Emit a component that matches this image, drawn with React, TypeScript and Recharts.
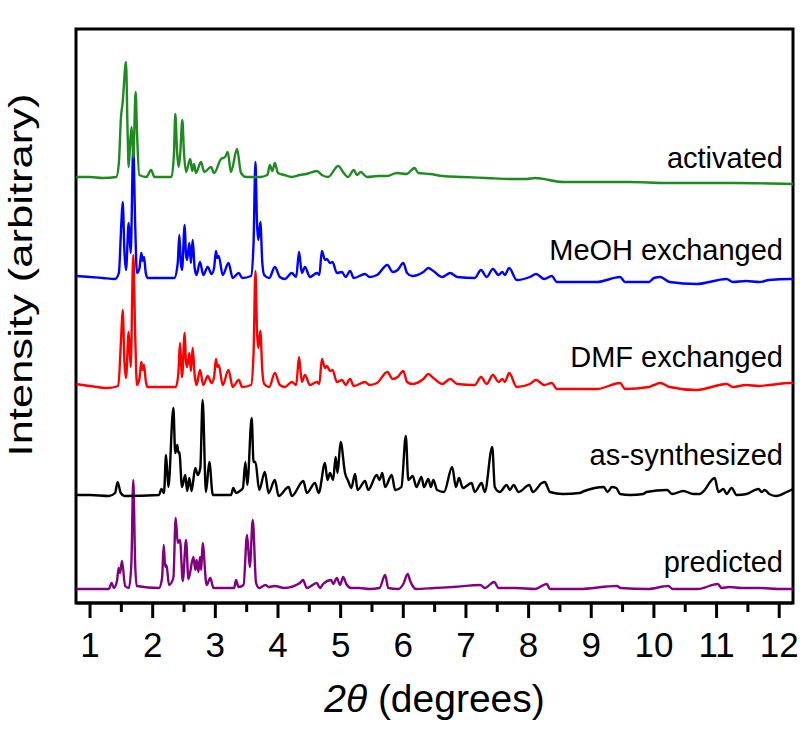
import React from "react";
import { LineChart, Line, XAxis, YAxis, ReferenceDot, ReferenceArea } from "recharts";

// 2θ (degrees) and intensity (arbitrary units, already stacked)
const activated: [number, number][] = [
  [0.78, 426], [1.0, 426], [1.2, 425], [1.42, 426], [1.46, 440], [1.494, 486], [1.52, 500], [1.574, 541],
  [1.6, 470], [1.617, 436], [1.64, 460], [1.664, 476], [1.69, 445], [1.728, 511], [1.75, 470], [1.786, 428],
  [1.9, 426], [1.973, 433], [2.03, 426], [2.3, 426], [2.34, 450], [2.361, 489], [2.39, 450], [2.415, 436],
  [2.44, 450], [2.473, 483], [2.5, 450], [2.532, 431], [2.6, 444], [2.63, 432], [2.66, 439], [2.69, 430],
  [2.771, 441], [2.824, 431], [2.931, 436], [2.98, 430], [3.09, 444], [3.155, 446], [3.197, 451], [3.25, 431],
  [3.346, 454], [3.41, 430], [3.49, 426], [3.71, 426], [3.83, 428], [3.87, 438], [3.91, 432], [3.95, 440],
  [4.0, 430], [4.1, 428], [4.22, 426], [4.35, 428], [4.45, 429], [4.62, 432], [4.7, 428], [4.8, 426],
  [4.96, 437], [5.05, 430], [5.12, 426], [5.21, 433], [5.26, 428], [5.32, 431], [5.42, 426], [5.6, 427],
  [5.74, 427], [5.9, 430], [6.05, 429], [6.18, 435], [6.24, 430], [6.43, 429], [6.63, 427], [6.95, 426],
  [7.33, 425], [7.7, 424], [7.97, 424], [8.1, 425], [8.55, 421], [9.0, 421], [9.62, 421], [10.2, 420],
  [10.68, 420], [11.3, 420], [12.22, 419],
];

const meohExchanged: [number, number][] = [
  [0.78, 327], [1.0, 326], [1.2, 325], [1.4, 324], [1.46, 330], [1.5, 380], [1.521, 401], [1.55, 350],
  [1.574, 333], [1.617, 380], [1.649, 350], [1.69, 456], [1.72, 380], [1.749, 330], [1.79, 335], [1.818, 350],
  [1.84, 342], [1.861, 346], [1.89, 330], [1.92, 325], [2.1, 325], [2.345, 325], [2.4, 340], [2.425, 368],
  [2.45, 340], [2.468, 333], [2.511, 378], [2.53, 350], [2.548, 343], [2.585, 360], [2.61, 340], [2.638, 363],
  [2.67, 335], [2.7, 328], [2.755, 341], [2.808, 328], [2.878, 336], [2.94, 329], [2.98, 335], [3.01, 352],
  [3.03, 345], [3.054, 347], [3.118, 328], [3.21, 340], [3.277, 325], [3.373, 330], [3.43, 325], [3.57, 327],
  [3.61, 360], [3.64, 441], [3.665, 380], [3.686, 363], [3.718, 381], [3.75, 340], [3.78, 328], [3.86, 325],
  [3.95, 336], [4.03, 326], [4.11, 324], [4.22, 330], [4.29, 326], [4.336, 351], [4.38, 330], [4.43, 336],
  [4.51, 326], [4.62, 330], [4.66, 328], [4.7, 352], [4.75, 343], [4.78, 344], [4.83, 340], [4.87, 341],
  [4.94, 330], [5.02, 331], [5.08, 326], [5.15, 332], [5.21, 325], [5.39, 329], [5.46, 326], [5.58, 328],
  [5.745, 338], [5.83, 331], [5.91, 333], [6.0, 340], [6.06, 330], [6.14, 327], [6.32, 331], [6.4, 335],
  [6.48, 332], [6.62, 326], [6.75, 330], [6.86, 326], [7.14, 325], [7.24, 333], [7.33, 326], [7.43, 334],
  [7.52, 328], [7.58, 331], [7.62, 328], [7.69, 335], [7.81, 323], [8.02, 326], [8.12, 329], [8.25, 324],
  [8.37, 327], [8.45, 321], [9.09, 321], [9.46, 326], [9.54, 321], [9.92, 321], [10.0, 325], [10.1, 326],
  [10.25, 321], [10.68, 319], [11.16, 324], [11.26, 321], [11.47, 322], [11.68, 321], [11.84, 323],
  [12.17, 324], [12.22, 324],
];

const dmfExchanged: [number, number][] = [
  [0.78, 219], [1.0, 217], [1.28, 215], [1.45, 217], [1.5, 270], [1.521, 293], [1.55, 240], [1.574, 225],
  [1.617, 271], [1.649, 236], [1.69, 348], [1.72, 270], [1.749, 218], [1.79, 225], [1.818, 241], [1.84, 233],
  [1.861, 238], [1.89, 222], [1.92, 216], [2.37, 216], [2.41, 230], [2.436, 260], [2.46, 232], [2.468, 226],
  [2.511, 270], [2.53, 242], [2.548, 236], [2.585, 250], [2.61, 232], [2.638, 255], [2.67, 228], [2.7, 218],
  [2.755, 233], [2.808, 218], [2.878, 227], [2.94, 220], [2.98, 226], [3.01, 244], [3.03, 236], [3.054, 238],
  [3.118, 218], [3.21, 233], [3.277, 216], [3.373, 223], [3.43, 216], [3.57, 218], [3.61, 250], [3.64, 332],
  [3.665, 272], [3.686, 255], [3.718, 272], [3.75, 232], [3.78, 219], [3.86, 216], [3.95, 230], [4.03, 218],
  [4.11, 216], [4.22, 221], [4.29, 218], [4.336, 246], [4.38, 221], [4.43, 228], [4.51, 218], [4.62, 221],
  [4.66, 219], [4.7, 244], [4.75, 235], [4.78, 237], [4.83, 232], [4.87, 233], [4.94, 221], [5.02, 223],
  [5.08, 218], [5.15, 224], [5.21, 217], [5.39, 221], [5.46, 218], [5.58, 220], [5.745, 231], [5.83, 224],
  [5.91, 226], [6.0, 232], [6.06, 221], [6.14, 219], [6.32, 224], [6.4, 229], [6.48, 225], [6.62, 219],
  [6.75, 224], [6.86, 219], [7.14, 218], [7.24, 226], [7.33, 219], [7.43, 228], [7.52, 221], [7.58, 224],
  [7.62, 221], [7.69, 230], [7.81, 216], [8.02, 219], [8.12, 223], [8.25, 218], [8.37, 220], [8.45, 214],
  [9.09, 214], [9.46, 220], [9.54, 214], [9.92, 216], [10.0, 218], [10.1, 220], [10.25, 216], [10.68, 213],
  [11.16, 219], [11.26, 216], [11.47, 218], [11.68, 217], [11.84, 218], [12.17, 220], [12.22, 220],
];

const asSynthesized: [number, number][] = [
  [0.78, 108], [1.0, 108], [1.3, 107], [1.4, 110], [1.44, 121], [1.49, 110], [1.55, 107], [2.1, 108],
  [2.14, 114], [2.18, 110], [2.213, 148], [2.25, 116], [2.33, 195], [2.36, 150], [2.393, 158], [2.41, 150],
  [2.425, 151], [2.468, 116], [2.52, 128], [2.55, 112], [2.585, 125], [2.62, 112], [2.68, 135], [2.72, 128],
  [2.76, 135], [2.797, 203], [2.85, 111], [2.904, 141], [2.96, 108], [3.25, 108], [3.287, 115], [3.33, 110],
  [3.39, 112], [3.44, 115], [3.479, 141], [3.51, 118], [3.58, 185], [3.61, 141], [3.64, 141], [3.7, 113],
  [3.79, 131], [3.85, 110], [3.95, 123], [4.01, 107], [4.17, 116], [4.22, 107], [4.405, 122], [4.46, 110],
  [4.59, 120], [4.65, 110], [4.75, 140], [4.79, 123], [4.83, 130], [4.88, 123], [4.92, 146], [4.95, 130],
  [5.0, 161], [5.07, 130], [5.12, 122], [5.17, 115], [5.23, 129], [5.27, 113], [5.39, 122], [5.44, 113],
  [5.575, 128], [5.62, 123], [5.665, 130], [5.71, 116], [5.815, 128], [5.87, 113], [5.97, 116], [6.04, 167],
  [6.08, 123], [6.15, 127], [6.21, 116], [6.29, 126], [6.33, 116], [6.4, 124], [6.44, 116], [6.48, 123],
  [6.54, 113], [6.65, 111], [6.78, 136], [6.84, 116], [6.89, 125], [6.95, 115], [7.09, 120], [7.14, 111],
  [7.25, 120], [7.3, 111], [7.42, 156], [7.46, 116], [7.54, 111], [7.65, 118], [7.7, 113], [7.76, 118],
  [7.84, 111], [8.01, 118], [8.07, 111], [8.21, 120], [8.26, 121], [8.3, 116], [8.34, 111], [8.55, 109],
  [8.81, 110], [8.89, 112], [9.2, 116], [9.26, 111], [9.33, 116], [9.4, 115], [9.46, 109], [9.62, 108],
  [9.83, 109], [9.88, 111], [10.21, 113], [10.29, 109], [10.47, 112], [10.63, 109], [10.73, 109],
  [10.78, 111], [10.97, 125], [11.03, 111], [11.11, 114], [11.16, 109], [11.24, 115], [11.32, 108],
  [11.48, 109], [11.67, 114], [11.72, 111], [11.77, 113], [11.84, 109], [11.95, 107], [12.12, 111],
  [12.22, 114],
];

const predicted: [number, number][] = [
  [0.78, 14], [1.0, 14], [1.3, 14], [1.345, 20], [1.38, 15], [1.43, 22], [1.457, 35], [1.48, 30],
  [1.51, 42], [1.56, 17], [1.62, 15], [1.66, 40], [1.69, 123], [1.72, 40], [1.745, 17], [2.1, 15],
  [2.15, 25], [2.176, 58], [2.2, 36], [2.22, 38], [2.26, 18], [2.33, 25], [2.367, 85], [2.4, 60],
  [2.436, 63], [2.48, 22], [2.532, 63], [2.57, 24], [2.65, 46], [2.68, 33], [2.7, 43], [2.73, 31],
  [2.755, 46], [2.775, 33], [2.797, 60], [2.86, 18], [2.92, 25], [2.97, 15], [3.3, 15], [3.33, 23],
  [3.37, 16], [3.45, 18], [3.506, 68], [3.55, 36], [3.597, 83], [3.65, 20], [3.7, 15], [3.8, 18],
  [3.85, 16], [3.95, 17], [4.1, 15], [4.35, 20], [4.4, 23], [4.46, 15], [4.62, 20], [4.67, 15],
  [4.72, 19], [4.85, 23], [4.88, 19], [4.94, 25], [4.99, 18], [5.04, 26], [5.09, 19], [5.17, 15],
  [5.3, 15], [5.46, 14], [5.62, 15], [5.71, 28], [5.76, 15], [5.92, 14], [6.0, 19], [6.07, 29],
  [6.11, 22], [6.15, 17], [6.2, 14], [6.5, 15], [6.8, 16], [7.23, 18], [7.3, 15], [7.45, 21],
  [7.52, 15], [7.8, 15], [8.1, 14], [8.29, 19], [8.34, 14], [8.8, 14], [9.41, 17], [9.47, 15],
  [9.9, 14], [10.23, 17], [10.3, 14], [10.7, 14], [11.02, 19], [11.08, 15], [11.2, 16], [11.4, 15],
  [11.7, 15], [12.0, 14], [12.22, 14],
];

const seriesNames = ["activated", "MeOH exchanged", "DMF exchanged", "as-synthesized", "predicted"];
const seriesColors = ["#1f8a1f", "#0000ff", "#ff0000", "#000000", "#800080"];
const seriesValues = [activated, meohExchanged, dmfExchanged, asSynthesized, predicted];
const labelLevels = [435, 343, 236, 138, 31];
const labelX = 12.06;

const xTicks = [1, 1.5, 2, 2.5, 3, 3.5, 4, 4.5, 5, 5.5, 6, 6.5, 7, 7.5, 8, 8.5, 9, 9.5, 10, 10.5, 11, 11.5, 12];
const xDomain: [number, number] = [0.776, 12.22];
const yDomain: [number, number] = [0, 574];
const yTitleAt = 328;

const FONT = "'Liberation Sans', Arial, Helvetica, sans-serif";

const Tick = (props: any) => {
  const { x, y, payload } = props;
  const major = Number.isInteger(payload.value);
  return (
    <g>
      <line x1={x} x2={x} y1={y} y2={y + (major ? 15 : 9)} stroke="#000" strokeWidth={3} />
      {major && (
        <text x={x} y={y + 54} textAnchor="middle" fontSize={35} fontFamily={FONT} fill="#000">
          {payload.value}
        </text>
      )}
    </g>
  );
};

const XTitle = (props: any) => {
  const { viewBox } = props;
  const cx = viewBox.x + viewBox.width / 2;
  return (
    <text x={cx} y={viewBox.y + 109} textAnchor="middle" fontSize={39} fontFamily={FONT} fill="#000">
      <tspan fontStyle="italic">2θ</tspan>
      <tspan> (degrees)</tspan>
    </text>
  );
};

export default function App() {
  const datasets = seriesValues.map((s) => s.map(([x, y]) => ({ x, y })));
  const order = [4, 3, 2, 1, 0];
  return (
    <div style={{ position: "absolute", left: 0, top: 0, background: "#fff" }}>
      <LineChart width={800} height={733} margin={{ top: 29, right: 7, bottom: 70, left: 76 }}>
        <XAxis
          type="number"
          dataKey="x"
          domain={xDomain}
          ticks={xTicks}
          allowDataOverflow
          height={60}
          tickSize={0}
          tickMargin={0}
          tickLine={false}
          tick={<Tick />}
          axisLine={{ stroke: "#000", strokeWidth: 3 }}
          interval={0}
          label={<XTitle />}
        />
        <YAxis type="number" domain={yDomain} allowDataOverflow hide />
        {order.map((i) => (
          <Line
            key={seriesNames[i]}
            data={datasets[i]}
            dataKey="y"
            type="monotone"
            stroke={seriesColors[i]}
            strokeWidth={2.4}
            dot={false}
            isAnimationActive={false}
            strokeLinejoin="round"
          />
        ))}
        <ReferenceArea
          x1={xDomain[0]}
          x2={xDomain[1]}
          y1={yDomain[0]}
          y2={yDomain[1]}
          fill="none"
          fillOpacity={0}
          stroke="#000"
          strokeWidth={3}
          ifOverflow="visible"
        />
        {seriesNames.map((name, i) => (
          <ReferenceDot
            key={"lbl" + name}
            x={labelX}
            y={labelLevels[i]}
            r={0}
            ifOverflow="visible"
            shape={(p: any) => (
              <text x={p.cx} y={p.cy} textAnchor="end" fontSize={29} fontFamily={FONT} fill="#000">
                {name}
              </text>
            )}
          />
        ))}
        <ReferenceDot
          x={xDomain[0]}
          y={yTitleAt}
          r={0}
          ifOverflow="visible"
          shape={(p: any) => {
            const x = p.cx - 44;
            const y = p.cy;
            return (
              <text
                x={0}
                y={0}
                transform={`translate(${x}, ${y}) rotate(-90) scale(1.32, 1)`}
                textAnchor="middle"
                fontSize={33}
                fontFamily={FONT}
                fill="#000"
              >
                Intensity (arbitrary)
              </text>
            );
          }}
        />
      </LineChart>
    </div>
  );
}
